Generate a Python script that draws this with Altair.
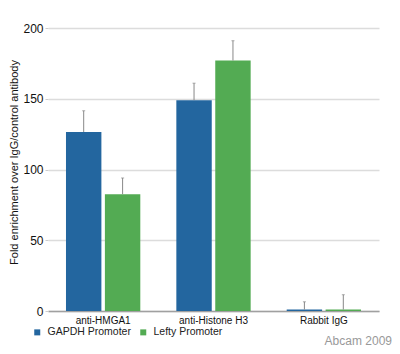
import altair as alt
import pandas as pd

antibodies = ["anti-HMGA1", "anti-HMGA1", "anti-Histone H3", "anti-Histone H3", "Rabbit IgG", "Rabbit IgG"]
promoters = ["GAPDH Promoter", "Lefty Promoter"] * 3
values = [126.5, 82.5, 149.0, 177.0, 1.0, 1.0]
upper = [141.5, 94.0, 161.0, 191.0, 6.5, 11.5]

group_order = ["anti-HMGA1", "anti-Histone H3", "Rabbit IgG"]
series_order = ["GAPDH Promoter", "Lefty Promoter"]
colors = ["#23669f", "#53ab53"]

df = pd.DataFrame({"antibody": antibodies, "promoter": promoters, "value": values, "upper": upper})
credit = pd.DataFrame({"label": ["Abcam 2009"]})

FONT = "Liberation Sans"

x_enc = alt.X("antibody:N", sort=group_order,
              scale=alt.Scale(paddingInner=0.3266, paddingOuter=0.163),
              axis=alt.Axis(title=None, labelAngle=0, labelFontSize=10, labelColor="#111",
                            labelFont=FONT, labelPadding=4, ticks=False,
                            domainColor="#a0a0a0", domainWidth=1.5))
xoff = alt.XOffset("promoter:N", sort=series_order,
                   scale=alt.Scale(paddingInner=0.09, paddingOuter=0))
y_scale = alt.Scale(domain=[0, 200], nice=False)

bars = alt.Chart(df).mark_bar().encode(
    x=x_enc,
    xOffset=xoff,
    y=alt.Y("value:Q", scale=y_scale,
            axis=alt.Axis(title="Fold enrichment over IgG/control antibody",
                          values=[0, 50, 100, 150, 200], domain=False,
                          labelFontSize=12, labelFont=FONT, labelColor="#111", labelPadding=2,
                          tickSize=3, tickColor="#cccccc",
                          gridColor="#dcdcdc", gridWidth=1.5,
                          titleFontSize=11, titleFont=FONT, titleFontWeight="normal",
                          titleColor="#111", titleX=-29, titleY=134)),
    color=alt.Color("promoter:N", sort=series_order,
                    scale=alt.Scale(domain=series_order, range=colors),
                    legend=alt.Legend(title=None, orient="none", direction="horizontal",
                                      legendX=-16, legendY=299, symbolType="square",
                                      symbolSize=36, symbolStrokeWidth=0, labelFontSize=10.5,
                                      labelFont=FONT, labelColor="#222", labelOffset=5,
                                      columnPadding=7, padding=0)),
)

err = alt.Chart(df).mark_rule(color="#888888", strokeWidth=1).encode(
    x=alt.X("antibody:N", sort=group_order),
    xOffset=alt.XOffset("promoter:N", sort=series_order),
    y=alt.Y("value:Q"),
    y2="upper:Q",
)

caps = alt.Chart(df).mark_tick(color="#888888", orient="horizontal", size=3, thickness=1).encode(
    x=alt.X("antibody:N", sort=group_order),
    xOffset=alt.XOffset("promoter:N", sort=series_order),
    y=alt.Y("upper:Q"),
)

text = alt.Chart(credit).mark_text(align="right", baseline="alphabetic", fontSize=12,
                                   font=FONT, color="#999999").encode(
    x=alt.value(344), y=alt.value(317), text="label:N")

chart = alt.layer(bars, err, caps, text).properties(
    width=331, height=283,
    background="white",
    autosize=alt.AutoSizeParams(type="none"),
    padding={"left": 48, "top": 28, "right": 21, "bottom": 43},
).configure_view(stroke=None)

chart.save("out.html", embed_options={"renderer": "svg", "actions": False})
